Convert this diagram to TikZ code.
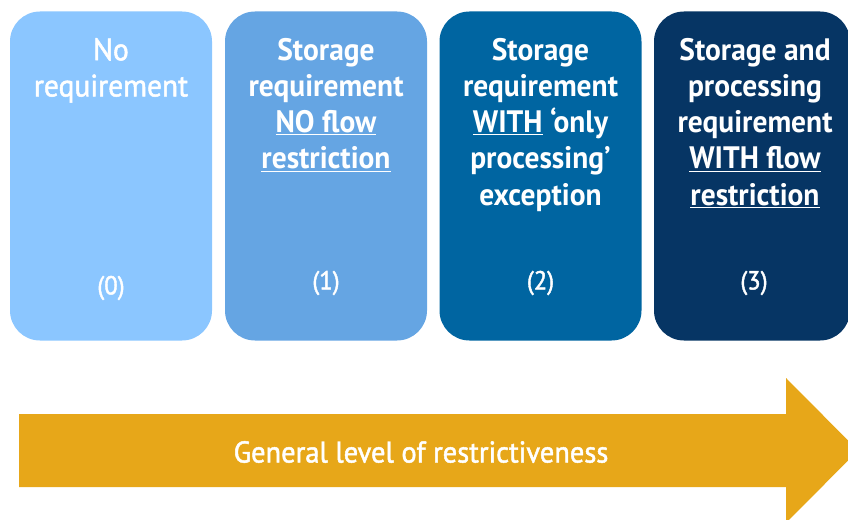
\documentclass[tikz,border=0pt]{standalone}
\usepackage{fontspec}
\setmainfont[FakeStretch=0.95]{PT Sans}
\newfontfamily\medfont[FakeStretch=0.95,FakeBold=1.6]{PT Sans}
\definecolor{cz}{HTML}{8BC6FF}
\definecolor{co}{HTML}{65A5E3}
\definecolor{ct}{HTML}{0065A1}
\definecolor{cth}{HTML}{063564}
\definecolor{carr}{HTML}{E7A719}
\newcommand{\ul}[1]{\underline{#1}}
\begin{document}
\begin{tikzpicture}[x=1pt,y=-1pt,
  levelbox/.style={draw=none, rounded corners=30pt, minimum width=202pt, minimum height=329pt, inner sep=0pt},
  title/.style={anchor=north, align=center, text=white, inner sep=0pt,
    font=\fontsize{31}{36.2}\selectfont\bfseries},
  num/.style={text=white, inner sep=0pt, font=\medfont\fontsize{26}{28}\selectfont},
  arrtext/.style={text=white, inner sep=0pt, font=\medfont\fontsize{30}{32}\selectfont}]
\useasboundingbox (0,0) rectangle (848,519);
\begin{scope}
\clip (0,0) rectangle (848,519);
\node[levelbox, fill=cz] (b0) at (111,176) {};
\node[levelbox, fill=co] (b1) at (326,176) {};
\node[levelbox, fill=ct] (b2) at (540.5,176) {};
\node[levelbox, fill=cth, minimum width=196pt] (b3) at (752,176) {};
\coordinate (a1) at (19,414);
\coordinate (a2) at (786,414);
\coordinate (a3) at (786,378);
\coordinate (a4) at (858,450.5);
\coordinate (a5) at (786,523);
\coordinate (a6) at (786,487);
\coordinate (a7) at (19,487);
\fill[carr] (a1) -- (a2) -- (a3) -- (a4) -- (a5) -- (a6) -- (a7) -- cycle;
\end{scope}
\node[title, font=\medfont\fontsize{31}{36.2}\selectfont] (t0) at (111,38) {No\\requirement};
\node[title] (t1) at (326,38) {Storage\\requirement\\\ul{NO flow}\\\ul{restriction}};
\node[title] (t2) at (540.5,38) {Storage\\requirement\\\ul{WITH} ‘only\\processing’\\exception};
\node[title] (t3) at (755,38) {Storage and\\processing\\requirement\\\ul{WITH flow}\\\ul{restriction}};
\node[num] (n0) at (111,288) {(0)};
\node[num] (n1) at (326,283) {(1)};
\node[num] (n2) at (540.5,283) {(2)};
\node[num] (n3) at (754,283) {(3)};
\node[arrtext] (lbl) at (421,452) {General level of restrictiveness};
\end{tikzpicture}
\end{document}
